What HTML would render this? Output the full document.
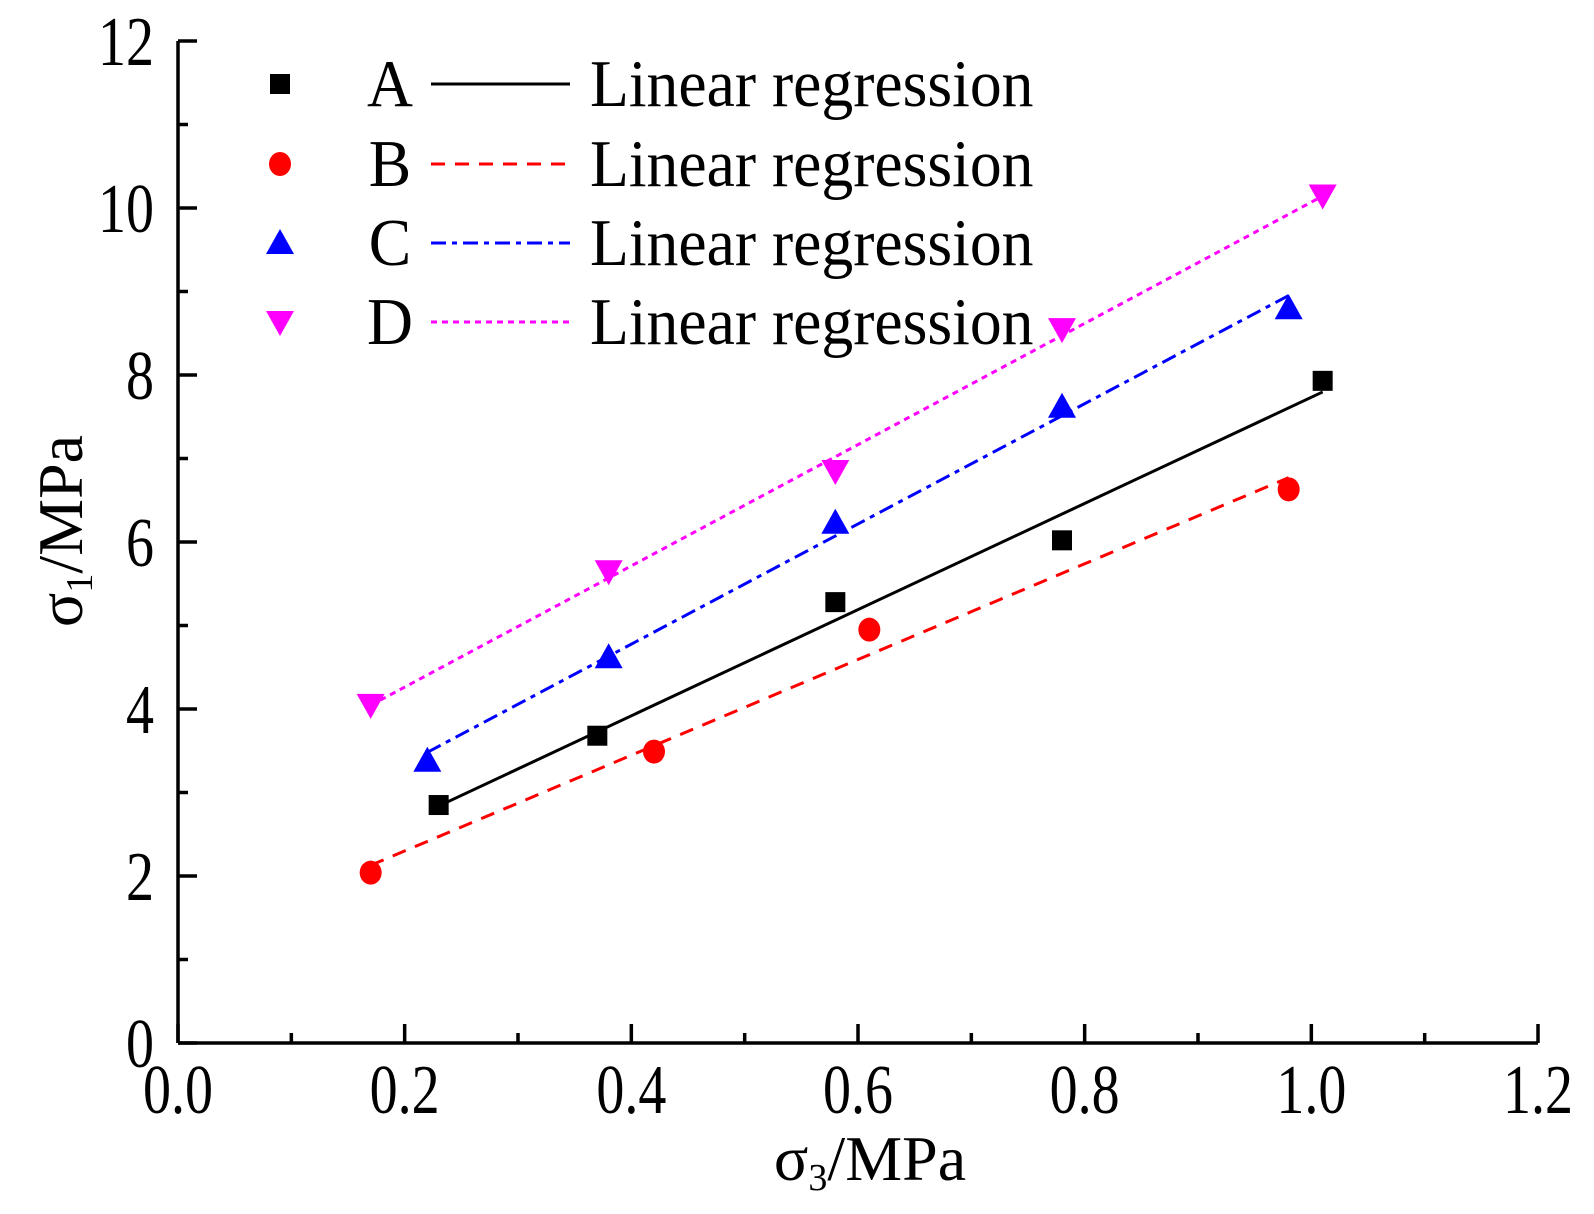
<!DOCTYPE html>
<html><head><meta charset="utf-8"><style>
body{margin:0;background:#fff}
svg{display:block;font-family:"Liberation Serif",serif}
</style></head><body>
<svg id="chart" width="1594" height="1214" viewBox="0 0 1594 1214"></svg>
<script>
const seriesNames=["A","B","C","D"];
const seriesColors=["#000000","#ff0000","#0000ff","#ff00ff"];
const seriesDash=["none","14,10","15,6,5,6","6,5"];
const xA=[0.23,0.37,0.58,0.78,1.01], yA=[2.85,3.68,5.28,6.02,7.93];
const xB=[0.17,0.42,0.61,0.98], yB=[2.04,3.49,4.95,6.63];
const xC=[0.22,0.38,0.58,0.78,0.98], yC=[3.38,4.62,6.23,7.62,8.80];
const xD=[0.17,0.38,0.58,0.78,1.01], yD=[4.05,5.65,6.85,8.55,10.15];
const xTicks=["0.0","0.2","0.4","0.6","0.8","1.0","1.2"];
const yTicks=["0","2","4","6","8","10","12"];
const NS="http://www.w3.org/2000/svg";
const svg=document.getElementById("chart");
const X0=178,X1=1538,Y0=1043,Y1=41;
const sx=v=>X0+v/1.2*(X1-X0), sy=v=>Y0-v/12*(Y0-Y1);
function mk(t,a,p){const e=document.createElementNS(NS,t);for(const k in a)e.setAttribute(k,a[k]);(p||svg).appendChild(e);return e;}
function txt(x,y,s,size,anchor,scx,p){return mk("text",{transform:`translate(${x},${y}) scale(${scx},1)`,"text-anchor":anchor,"font-size":size},p);}
let e;
e=mk("line",{x1:X0,y1:Y0,x2:X1,y2:Y0,stroke:"#000","stroke-width":3.5});


e=mk("line",{x1:X0,y1:Y0,x2:X0,y2:Y1,stroke:"#000","stroke-width":3.5});


for(let i=0;i<=12;i++){const v=i*0.1,x=sx(v),maj=i%2==0;
 mk("line",{x1:x,y1:Y0,x2:x,y2:Y0-(maj?19:10),stroke:"#000","stroke-width":3.5});}
xTicks.forEach(t=>{e=txt(sx(+t),Y0+70,t,70,"middle",0.8);e.textContent=t;
 
 });
for(let i=0;i<=12;i++){const y=sy(i),maj=i%2==0;
 mk("line",{x1:X0,y1:y,x2:X0+(maj?19:10),y2:y,stroke:"#000","stroke-width":3.5});}
yTicks.forEach(t=>{e=txt(X0-24,sy(+t)+24,t,70,"end",0.8);e.textContent=t;
 
 });
e=mk("text",{x:870,y:1180,"text-anchor":"middle","font-size":64});e.innerHTML='σ<tspan font-size="38" dy="10">3</tspan><tspan dy="-10">/MPa</tspan>';


e=mk("text",{transform:"translate(82,531) rotate(-90)","text-anchor":"middle","font-size":64});e.innerHTML='σ<tspan font-size="38" dy="10">1</tspan><tspan dy="-10">/MPa</tspan>';


function marker(i,cx,cy,p){
 if(i==0)return mk("rect",{x:cx-10,y:cy-10,width:20,height:20,fill:seriesColors[i]},p);
 if(i==1)return mk("ellipse",{cx:cx,cy:cy,rx:11,ry:12,fill:seriesColors[i]},p);
 if(i==2)return mk("polygon",{points:`${cx},${cy-14} ${cx-14},${cy+11} ${cx+14},${cy+11}`,fill:seriesColors[i]},p);
 return mk("polygon",{points:`${cx},${cy+14} ${cx-14},${cy-11} ${cx+14},${cy-11}`,fill:seriesColors[i]},p);
}
const XS=[xA,xB,xC,xD],YS=[yA,yB,yC,yD];
XS.forEach((xs,i)=>{const ys=YS[i];const n=xs.length;
 const mx=xs.reduce((a,b)=>a+b)/n,my=ys.reduce((a,b)=>a+b)/n;
 let sxy=0,sxx=0;xs.forEach((x,j)=>{sxy+=(x-mx)*(ys[j]-my);sxx+=(x-mx)*(x-mx);});
 const b=sxy/sxx,a=my-b*mx;const xmin=Math.min(...xs),xmax=Math.max(...xs);
 const g=mk("g",{});
 
 
 const l=mk("line",{x1:sx(xmin),y1:sy(a+b*xmin),x2:sx(xmax),y2:sy(a+b*xmax),stroke:seriesColors[i],"stroke-width":3,"stroke-dasharray":seriesDash[i]},g);
 
 
 xs.forEach((x,j)=>{const m=marker(i,sx(x),sy(ys[j]),g);
  
  });
});
const lg=mk("g",{});


const legY=[84,164,243,322];
seriesNames.forEach((s,i)=>{const y=legY[i];
 const g=mk("g",{},lg);
 
 
 marker(i,280,y,g);
 let t=txt(390,y+22,s,67,"middle",0.95,g);t.textContent=s;
 mk("line",{x1:431,y1:y,x2:570,y2:y,stroke:seriesColors[i],"stroke-width":3,"stroke-dasharray":seriesDash[i]},g);
 t=txt(590,y+22,"",67,"start",0.95,g);t.textContent="Linear regression";
});
</script>
</body></html>
